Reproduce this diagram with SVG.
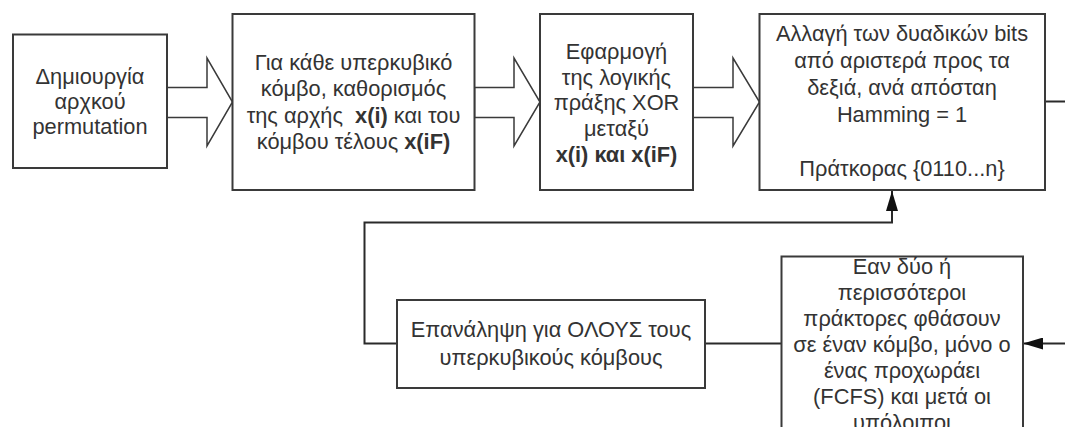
<svg xmlns="http://www.w3.org/2000/svg" width="1065" height="427" viewBox="0 0 1065 427">
  <defs>
    <style>
      .box { fill: #ffffff; stroke: #3a3a3a; stroke-width: 2; }
      .blk { fill: #ffffff; stroke: #3a3a3a; stroke-width: 1.5; stroke-linejoin: miter; }
      .wire { fill: none; stroke: #2a2a2a; stroke-width: 2; }
      .lbl { font-family: "Liberation Sans", Arial, sans-serif; font-size: 21.8px; fill: #333333; text-anchor: middle; }
      .b { font-weight: bold; }
    </style>
    <marker id="head" viewBox="0 0 20 12" refX="20" refY="6" markerWidth="20" markerHeight="12" markerUnits="userSpaceOnUse" orient="auto">
      <path d="M0,0 L20,6 L0,12 Z" fill="#111111"/>
    </marker>
  </defs>

  <rect width="1065" height="427" fill="#ffffff"/>

  <!-- block arrows between the top row of steps -->
  <g id="connectors">
    <polygon class="blk" points="167,87.5 207,87.5 207,58 232.5,102 207,146 207,117.5 167,117.5"/>
    <polygon class="blk" points="474.5,87.5 514,87.5 514,58 540,102 514,146 514,117.5 474.5,117.5"/>
    <polygon class="blk" points="693,87.5 733,87.5 733,58 759.5,102 733,146 733,117.5 693,117.5"/>

    <!-- outgoing line on the right of the last top step -->
    <line class="wire" x1="1045" y1="101.5" x2="1065" y2="101.5"/>
    <!-- incoming line into the conflict step -->
    <line class="wire" x1="1065" y1="343.5" x2="1023" y2="343.5" marker-end="url(#head)"/>
    <!-- conflict step to repeat step -->
    <line class="wire" x1="781.5" y1="343.5" x2="705" y2="343.5"/>
    <!-- loop back up to the bit-flip step -->
    <polyline class="wire" points="397,343.5 364.5,343.5 364.5,222.5 892,222.5 892,191" marker-end="url(#head)"/>
  </g>

  <g id="node-start">
    <rect class="box" x="13" y="34.5" width="154" height="133.5"/>
    <text class="lbl" x="90" y="84">Δημιουργία</text>
    <text class="lbl" x="90" y="109">αρχκού</text>
    <text class="lbl" x="90" y="134">permutation</text>
  </g>

  <g id="node-endpoints">
    <rect class="box" x="232.5" y="14" width="242" height="176"/>
    <text class="lbl" x="353.5" y="69.5">Για κάθε υπερκυβικό</text>
    <text class="lbl" x="353.5" y="96">κόμβο, καθορισμός</text>
    <text class="lbl" x="353.5" y="122.5" xml:space="preserve">της αρχής  <tspan class="b">x(i)</tspan> και του</text>
    <text class="lbl" x="353.5" y="149">κόμβου τέλους <tspan class="b">x(iF)</tspan></text>
  </g>

  <g id="node-xor">
    <rect class="box" x="540" y="14" width="153" height="176"/>
    <text class="lbl" x="616.5" y="58.5">Εφαρμογή</text>
    <text class="lbl" x="616.5" y="84.5">της λογικής</text>
    <text class="lbl" x="616.5" y="110">πράξης XOR</text>
    <text class="lbl" x="616.5" y="136">μεταξύ</text>
    <text class="lbl b" x="616.5" y="162">x(i) και x(iF)</text>
  </g>

  <g id="node-flip">
    <rect class="box" x="759.5" y="14" width="285.5" height="176"/>
    <text class="lbl" x="902" y="40.5">Αλλαγή των δυαδικών bits</text>
    <text class="lbl" x="902" y="67.5">από αριστερά προς τα</text>
    <text class="lbl" x="902" y="94.5">δεξιά, ανά απόσταη</text>
    <text class="lbl" x="902" y="121.5">Hamming = 1</text>
    <text class="lbl" x="902" y="175.5">Πράτκορας {0110...n}</text>
  </g>

  <g id="node-repeat">
    <rect class="box" x="397" y="300" width="308" height="88"/>
    <text class="lbl" x="551" y="337">Επανάληψη για ΟΛΟΥΣ τους</text>
    <text class="lbl" x="551" y="364.5">υπερκυβικούς κόμβους</text>
  </g>

  <g id="node-conflict">
    <rect class="box" x="781.5" y="256.5" width="241.5" height="200"/>
    <text class="lbl" x="902" y="274">Εαν δύο ή</text>
    <text class="lbl" x="902" y="300">περισσότεροι</text>
    <text class="lbl" x="902" y="326">πράκτορες φθάσουν</text>
    <text class="lbl" x="902" y="352">σε έναν κόμβο, μόνο ο</text>
    <text class="lbl" x="902" y="378">ένας προχωράει</text>
    <text class="lbl" x="902" y="404">(FCFS) και μετά οι</text>
    <text class="lbl" x="902" y="430">υπόλοιποι</text>
  </g>
</svg>
